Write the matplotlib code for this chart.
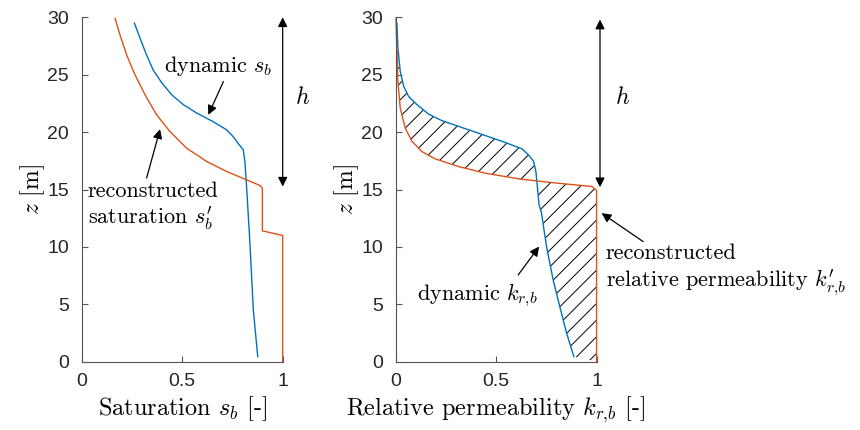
import numpy as np
import matplotlib
matplotlib.use('Agg')
from matplotlib import pyplot as plt

plt.rcParams['font.family'] = ['Liberation Sans', 'DejaVu Sans']
plt.rcParams['mathtext.fontset'] = 'cm'
plt.rcParams['hatch.linewidth'] = 0.7

# saturation plot (left)
s_dyn_x = [0.262, 0.290, 0.323, 0.356, 0.398, 0.448, 0.505, 0.572, 0.655, 0.721, 0.754,
           0.779, 0.804, 0.812, 0.821, 0.837, 0.854, 0.876]
s_dyn_z = [29.5, 28.2, 26.7, 25.4, 24.3, 23.25, 22.4, 21.66, 20.9, 20.2, 19.6,
           19.0, 18.46, 17.44, 15.1, 10.3, 4.5, 0.44]
s_rec_x = [0.166, 0.190, 0.224, 0.265, 0.315, 0.373, 0.439, 0.522, 0.622, 0.721, 0.821,
           0.887, 0.899, 0.899, 0.998, 1.0, 1.0]
s_rec_z = [29.9, 28.5, 26.7, 25.0, 23.25, 21.5, 20.05, 18.6, 17.44, 16.57, 15.84,
           15.35, 15.1, 11.4, 11.0, 11.0, 0.0]

# relative permeability plot (right)
k_dyn_x = [0.0065, 0.0115, 0.023, 0.040, 0.065, 0.106, 0.164, 0.230, 0.313, 0.413, 0.529,
           0.628, 0.662, 0.687, 0.698, 0.706, 0.714, 0.726, 0.751, 0.784, 0.817, 0.851, 0.887]
k_dyn_z = [29.5, 27.3, 25.3, 24.0, 23.1, 22.4, 21.57, 21.0, 20.5, 19.9, 19.2,
           18.55, 18.0, 17.44, 16.57, 15.12, 13.66, 12.94, 10.03, 7.12, 4.8, 2.48, 0.44]
k_rec_x = [0.0015, 0.0065, 0.0115, 0.023, 0.048, 0.081, 0.131, 0.197, 0.313, 0.446, 0.612,
           0.778, 0.977, 0.997, 1.0, 1.0]
k_rec_z = [29.9, 27.3, 24.4, 22.1, 20.35, 19.2, 18.3, 17.67, 17.0, 16.42, 15.93,
           15.6, 15.26, 14.97, 14.9, 0.0]

xticks = [0, 0.5, 1]
xticklabels = ['0', '0.5', '1']
yticks = [0, 5, 10, 15, 20, 25, 30]

blue = '#0072BD'
orange = '#D95319'
axc = '#262626'
cm = 'cmr10'
arr = dict(arrowstyle='-|>', color='k', lw=0.9, mutation_scale=14, shrinkA=0, shrinkB=0)
darr = dict(arrowstyle='<|-|>', color='k', lw=0.9, mutation_scale=14, shrinkA=0, shrinkB=0)

fig = plt.figure(figsize=(8.6, 4.3), dpi=100)
ax1 = fig.add_axes([0.095, 0.1588, 0.2337, 0.801])
ax2 = fig.add_axes([0.460, 0.1588, 0.2337, 0.801])

for ax in (ax1, ax2):
    ax.set_xlim(0, 1)
    ax.set_ylim(0, 30)
    ax.set_xticks(xticks)
    ax.set_xticklabels(xticklabels)
    ax.set_yticks(yticks)
    ax.spines['top'].set_visible(False)
    ax.spines['right'].set_visible(False)
    for s in ('left', 'bottom'):
        ax.spines[s].set_color('#555555')
        ax.spines[s].set_linewidth(0.8)
    ax.tick_params(direction='in', length=4, width=0.8, color='#555555',
                   labelsize=14, labelcolor=axc)
    ax.tick_params(axis='y', pad=9)
    ax.tick_params(axis='x', pad=8)
    ax.set_ylabel('$z$ [m]', family=cm, fontsize=17, labelpad=0)

# left
ax1.plot(s_dyn_x, s_dyn_z, color=blue, lw=1.0, clip_on=False)
ax1.plot(s_rec_x, s_rec_z, color=orange, lw=1.0, clip_on=False)
ax1.set_xlabel('Saturation $s_b$ [-]', family=cm, fontsize=17.5, labelpad=3)
ax1.annotate('', xy=(1.0, 15.25), xytext=(1.0, 30.0), arrowprops=darr, annotation_clip=False)
ax1.text(1.06, 23, '$h$', fontsize=17, ha='left', va='center')
ax1.text(0.679, 25.8, 'dynamic $s_b$', family=cm, fontsize=16, ha='center', va='center')
ax1.annotate('', xy=(0.63, 21.5), xytext=(0.705, 24.4), arrowprops=arr)
ax1.text(0.03, 13.5, 'reconstructed\nsaturation $s_b^{\\prime}$', family=cm, fontsize=16,
         ha='left', va='center', linespacing=1.2)
ax1.annotate('', xy=(0.39, 20.26), xytext=(0.323, 16.0), arrowprops=arr)

# right
ax2.fill(k_dyn_x + k_rec_x[::-1], k_dyn_z + k_rec_z[::-1],
         facecolor='none', edgecolor='k', lw=0, hatch='//')
ax2.plot(k_dyn_x, k_dyn_z, color=blue, lw=1.0, clip_on=False)
ax2.plot(k_rec_x, k_rec_z, color=orange, lw=1.0, clip_on=False)
ax2.set_xlabel('Relative permeability $k_{r,\\!b}$ [-]', family=cm, fontsize=17.5, labelpad=3)
ax2.annotate('', xy=(1.017, 15.2), xytext=(1.017, 29.8), arrowprops=darr, annotation_clip=False)
ax2.text(1.09, 23, '$h$', fontsize=17, ha='left', va='center')
ax2.text(0.409, 5.8, 'dynamic $k_{r,\\!b}$', family=cm, fontsize=16, ha='center', va='center')
ax2.annotate('', xy=(0.714, 10.03), xytext=(0.61, 7.56), arrowprops=arr)
ax2.text(1.046, 8.0, 'reconstructed\nrelative permeability $k_{r,\\!b}^{\\prime}$', family=cm,
         fontsize=16, ha='left', va='center', linespacing=1.2)
ax2.annotate('', xy=(1.025, 12.94), xytext=(1.232, 10.46), arrowprops=arr,
             annotation_clip=False)

fig.savefig('out.png', dpi=100)
